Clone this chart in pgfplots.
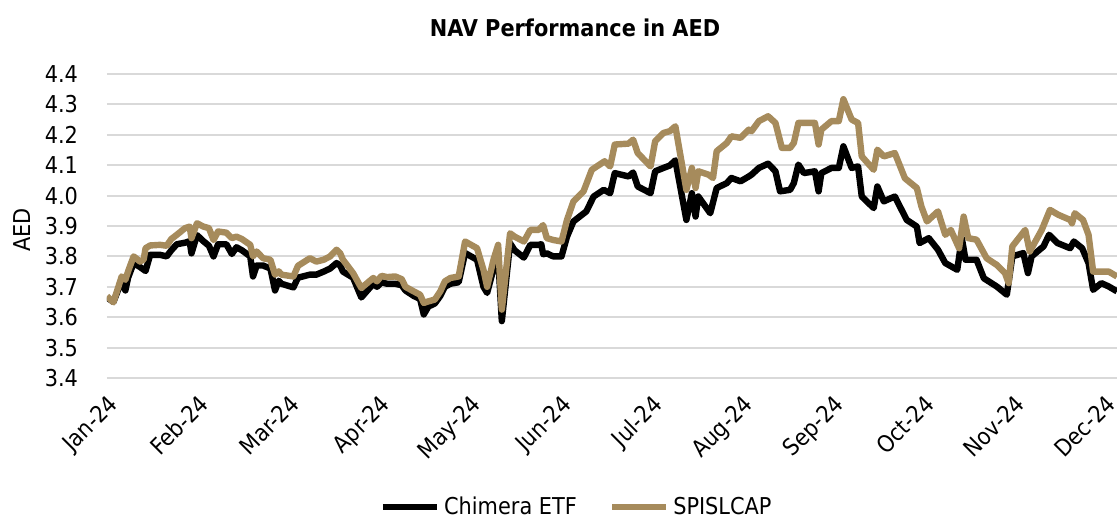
\documentclass[border=0pt]{standalone}
\usepackage{fontspec}
\setmainfont{DejaVu Sans Condensed}
\usepackage{pgfplots}
\pgfplotsset{compat=1.18}
\definecolor{spis}{RGB}{166,139,92}
\definecolor{gridc}{RGB}{217,217,217}
\newcommand{\fs}{\fontsize{11.6}{13}\selectfont}

% x in plot units (1 unit = 91.8 px of the reference); month labels sit every 0.988 units
\pgfplotstableread{
m v
0.00 3.665
0.07 3.650
0.16 3.720
0.20 3.688
0.23 3.730
0.29 3.778
0.36 3.765
0.42 3.752
0.47 3.805
0.58 3.805
0.65 3.800
0.70 3.820
0.76 3.840
0.85 3.845
0.90 3.850
0.92 3.810
0.98 3.870
1.05 3.850
1.11 3.835
1.16 3.800
1.21 3.840
1.30 3.840
1.36 3.808
1.41 3.830
1.47 3.820
1.56 3.800
1.59 3.734
1.63 3.770
1.70 3.770
1.78 3.760
1.83 3.688
1.87 3.720
1.90 3.710
2.03 3.698
2.08 3.730
2.21 3.740
2.28 3.740
2.36 3.750
2.43 3.760
2.50 3.778
2.54 3.770
2.57 3.750
2.68 3.730
2.77 3.665
2.90 3.710
2.94 3.700
2.99 3.715
3.05 3.710
3.14 3.710
3.21 3.705
3.25 3.688
3.34 3.670
3.41 3.660
3.45 3.609
3.50 3.635
3.57 3.645
3.63 3.670
3.68 3.700
3.74 3.710
3.83 3.715
3.90 3.811
4.03 3.789
4.10 3.700
4.14 3.680
4.21 3.760
4.26 3.800
4.30 3.587
4.39 3.843
4.44 3.820
4.54 3.796
4.61 3.838
4.70 3.838
4.73 3.840
4.75 3.807
4.79 3.810
4.86 3.800
4.95 3.800
5.01 3.865
5.08 3.915
5.22 3.948
5.30 3.997
5.41 4.019
5.48 4.008
5.53 4.074
5.68 4.063
5.73 4.076
5.78 4.030
5.92 4.008
5.97 4.080
6.06 4.091
6.13 4.099
6.19 4.116
6.31 3.920
6.37 4.008
6.41 3.931
6.44 3.997
6.57 3.942
6.64 4.025
6.75 4.041
6.80 4.058
6.90 4.047
6.99 4.063
7.02 4.069
7.10 4.091
7.20 4.105
7.28 4.080
7.33 4.014
7.44 4.019
7.48 4.041
7.53 4.102
7.59 4.074
7.71 4.080
7.75 4.014
7.78 4.074
7.89 4.091
7.97 4.091
8.02 4.162
8.11 4.091
8.18 4.096
8.22 3.997
8.35 3.959
8.39 4.030
8.46 3.981
8.58 3.997
8.71 3.920
8.82 3.898
8.85 3.844
8.95 3.860
9.05 3.822
9.13 3.778
9.26 3.756
9.31 3.860
9.35 3.789
9.47 3.789
9.55 3.728
9.69 3.701
9.80 3.674
9.86 3.800
9.98 3.811
10.03 3.745
10.07 3.800
10.20 3.833
10.26 3.871
10.35 3.844
10.49 3.827
10.53 3.849
10.62 3.827
10.69 3.778
10.74 3.690
10.83 3.712
10.91 3.701
11.00 3.685
}\chimera

\pgfplotstableread{
m v
0.00 3.669
0.07 3.649
0.16 3.734
0.20 3.723
0.23 3.751
0.29 3.800
0.36 3.783
0.40 3.790
0.42 3.827
0.47 3.836
0.58 3.838
0.65 3.835
0.70 3.857
0.76 3.871
0.85 3.893
0.90 3.898
0.92 3.860
0.98 3.909
1.05 3.898
1.11 3.893
1.16 3.854
1.21 3.882
1.30 3.878
1.36 3.860
1.41 3.865
1.47 3.857
1.56 3.838
1.59 3.800
1.63 3.816
1.70 3.794
1.78 3.789
1.83 3.740
1.87 3.751
1.90 3.740
2.03 3.734
2.08 3.769
2.21 3.794
2.28 3.783
2.36 3.789
2.43 3.800
2.50 3.822
2.54 3.810
2.57 3.789
2.68 3.745
2.77 3.696
2.90 3.729
2.94 3.718
2.99 3.736
3.05 3.732
3.14 3.734
3.21 3.725
3.25 3.700
3.34 3.685
3.41 3.674
3.45 3.647
3.50 3.652
3.57 3.658
3.63 3.685
3.68 3.718
3.74 3.729
3.83 3.734
3.90 3.849
4.03 3.827
4.10 3.756
4.14 3.700
4.21 3.790
4.26 3.838
4.30 3.625
4.39 3.876
4.44 3.865
4.54 3.849
4.61 3.887
4.70 3.887
4.75 3.903
4.79 3.860
4.86 3.854
4.95 3.849
5.01 3.920
5.08 3.981
5.19 4.014
5.28 4.085
5.42 4.113
5.48 4.096
5.53 4.168
5.68 4.171
5.73 4.184
5.78 4.140
5.92 4.096
5.97 4.179
6.06 4.206
6.13 4.212
6.19 4.228
6.31 4.019
6.37 4.091
6.41 4.025
6.44 4.080
6.55 4.069
6.60 4.058
6.64 4.146
6.75 4.173
6.80 4.195
6.90 4.190
6.99 4.217
7.02 4.212
7.10 4.245
7.20 4.261
7.28 4.239
7.35 4.157
7.44 4.157
7.48 4.173
7.53 4.239
7.71 4.239
7.75 4.168
7.78 4.217
7.89 4.245
7.97 4.245
8.02 4.317
8.11 4.250
8.18 4.239
8.22 4.129
8.35 4.085
8.39 4.151
8.46 4.129
8.58 4.140
8.69 4.057
8.82 4.025
8.87 3.964
8.93 3.915
9.05 3.948
9.13 3.871
9.19 3.887
9.28 3.827
9.33 3.931
9.38 3.860
9.47 3.855
9.58 3.794
9.69 3.772
9.78 3.745
9.82 3.712
9.86 3.833
10.00 3.887
10.05 3.816
10.18 3.887
10.27 3.953
10.36 3.937
10.49 3.920
10.51 3.909
10.54 3.942
10.63 3.920
10.69 3.871
10.74 3.750
10.85 3.750
10.91 3.750
11.00 3.734
}\spislcap

\begin{document}
\begin{tikzpicture}
\begin{axis}[
  at={(0,0)}, anchor=south west,
  scale only axis, width=505pt, height=152pt,
  xmin=0, xmax=11, ymin=3.4, ymax=4.4,
  xtick={0,0.988,1.976,2.964,3.952,4.940,5.928,6.916,7.904,8.892,9.880,10.868},
  xticklabels={Jan-24,Feb-24,Mar-24,Apr-24,May-24,Jun-24,Jul-24,Aug-24,Sep-24,Oct-24,Nov-24,Dec-24},
  ytick={3.4,3.5,3.6,3.7,3.8,3.9,4.0,4.1,4.2,4.3,4.4},
  axis line style={draw=none},
  major tick length=0pt,
  ymajorgrids, grid style={gridc, line width=1pt},
  /pgf/number format/assume math mode=true,
  yticklabel style={font=\fs, xshift=-11pt,
    /pgf/number format/.cd, fixed, fixed zerofill, precision=1},
  xticklabel style={font=\fs, rotate=45, anchor=north east, xshift=-2pt, yshift=-2pt},
  legend style={at={(0.466,-0.424)}, anchor=center, draw=none, fill=none,
    legend columns=2, font=\fs,
    /tikz/every even column/.append style={column sep=14pt}},
  legend image code/.code={\draw[#1, line width=3.2pt] (0pt,0pt) -- (27pt,0pt);},
]
\addplot[black, line width=3.2pt, line join=round] table[x=m, y=v] {\chimera};
\addlegendentry{Chimera ETF}
\addplot[spis, line width=3.2pt, line join=round] table[x=m, y=v] {\spislcap};
\addlegendentry{SPISLCAP}
\end{axis}
\node[font=\fs\bfseries] at (234pt,175pt) {NAV Performance in AED};
\node[font=\fs, rotate=90] at (-42.5pt,74pt) {AED};
\pgfresetboundingbox
\path[use as bounding box] (-53.5pt,-70pt) rectangle (505pt,189pt);
\end{tikzpicture}
\end{document}
